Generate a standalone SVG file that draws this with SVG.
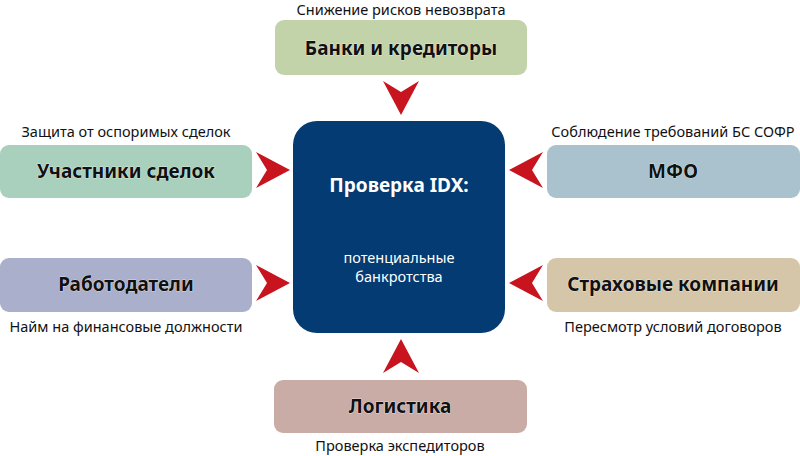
<svg xmlns="http://www.w3.org/2000/svg" width="800" height="456" viewBox="0 0 800 456">
<style>
.t{font-family:"Noto Sans","Liberation Sans",sans-serif;font-weight:bold;font-size:19px;fill:#111;text-anchor:middle;stroke:#fff;stroke-width:0.6;paint-order:stroke}
.l{font-family:"Noto Sans","Liberation Sans",sans-serif;font-size:14.5px;fill:#111;text-anchor:middle}
.a{fill:#c8141e}
</style>
<defs><path id="ar" d="M-17,-18 L17,0 L-17,18 L-6,0 Z"/></defs>
<g id="center">
<rect x="293" y="121" width="212" height="212" rx="24" fill="#033b72"/>
<text x="399" y="192" class="t" style="fill:#fff;stroke:none">Проверка IDX:</text>
<text x="399" y="263" class="l" style="fill:#fff">потенциальные</text>
<text x="399" y="282" class="l" style="fill:#fff">банкротства</text>
</g>
<g id="banks"><rect x="275" y="20" width="252" height="55" rx="9" fill="#c3d3a9"/><text x="401" y="55" class="t">Банки и кредиторы</text><text x="401" y="15" class="l">Снижение рисков невозврата</text></g>
<g id="participants"><rect x="0" y="145" width="252" height="53" rx="9" fill="#a9d0bd"/><text x="126" y="178" class="t">Участники сделок</text><text x="126" y="137" class="l">Защита от оспоримых сделок</text></g>
<g id="mfo"><rect x="547" y="145" width="253" height="53" rx="9" fill="#a9c2cd"/><text x="673" y="178" class="t">МФО</text><text x="673" y="137" class="l">Соблюдение требований БС СОФР</text></g>
<g id="employers"><rect x="0" y="258" width="252" height="54" rx="9" fill="#aaafcb"/><text x="126" y="291" class="t">Работодатели</text><text x="126" y="332" class="l">Найм на финансовые должности</text></g>
<g id="insurance"><rect x="547" y="258" width="253" height="54" rx="9" fill="#d5c6a9"/><text x="673" y="291" class="t">Страховые компании</text><text x="673" y="332" class="l">Пересмотр условий договоров</text></g>
<g id="logistics"><rect x="274" y="380" width="253" height="53" rx="9" fill="#caaca7"/><text x="400" y="413" class="t">Логистика</text><text x="400" y="451" class="l">Проверка экспедиторов</text></g>
<g id="connectors">
<use href="#ar" class="a" transform="translate(401,98) rotate(90)"/>
<use href="#ar" class="a" transform="translate(273,170)"/>
<use href="#ar" class="a" transform="translate(273,283)"/>
<use href="#ar" class="a" transform="translate(526,170) rotate(180)"/>
<use href="#ar" class="a" transform="translate(526,283) rotate(180)"/>
<use href="#ar" class="a" transform="translate(401,356) rotate(-90)"/>
</g>
</svg>
